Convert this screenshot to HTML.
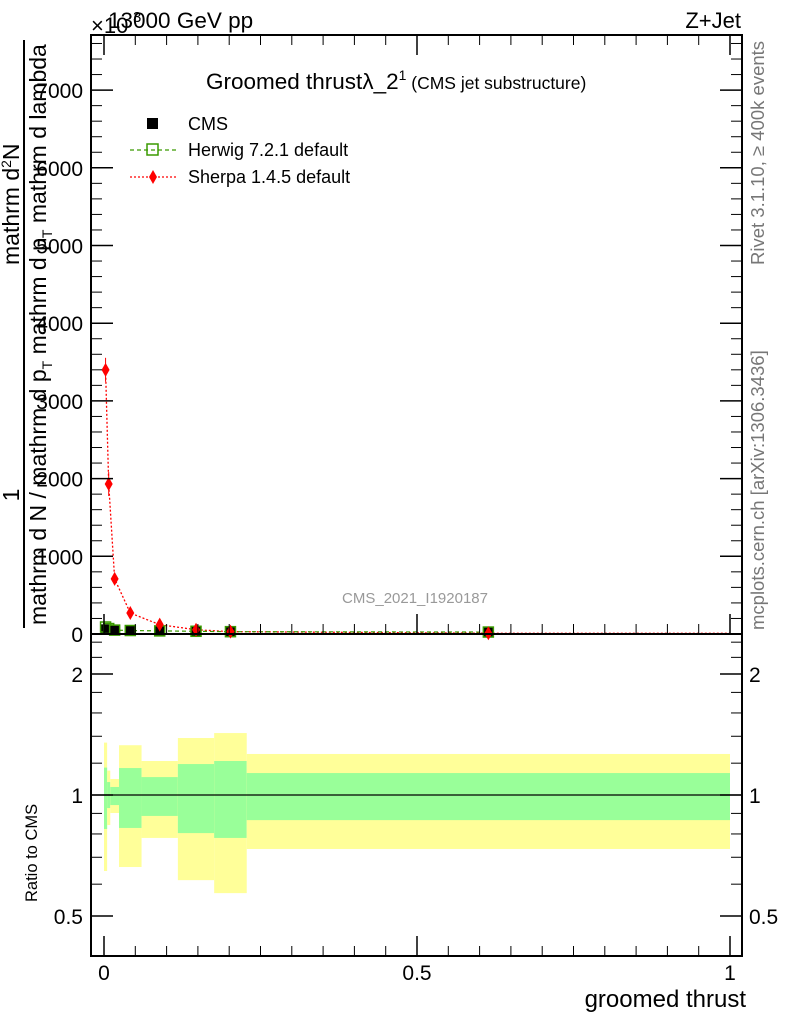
<!DOCTYPE html>
<html><head><meta charset="utf-8"><style>
body{margin:0;background:#fff}
svg{font-family:"Liberation Sans",sans-serif}
</style></head><body>
<svg id="c" width="786" height="1024" xmlns="http://www.w3.org/2000/svg">
<g id="bands"></g>
<g id="marks"></g>
<g id="axes"></g>
<text x="91" y="33" font-size="22">×10</text>
<text x="133" y="22" font-size="15">3</text>
<text x="108" y="28" font-size="22.5">13000 GeV pp</text>
<text x="741" y="28" font-size="22" text-anchor="end">Z+Jet</text>
<text x="206" y="89" font-size="22.5">Groomed thrustλ_2<tspan font-size="14" dy="-9">1</tspan><tspan font-size="17.5" dy="9"> (CMS jet substructure)</tspan></text>
<g>
<rect x="147" y="118" width="11" height="11" fill="#000"/>
<text x="188" y="130" font-size="18">CMS</text>
<line x1="130" y1="150" x2="176" y2="150" stroke="#3a9a00" stroke-dasharray="4,3" stroke-width="1.3"/>
<rect x="147" y="144" width="11" height="11" fill="none" stroke="#3a9a00" stroke-width="1.5"/>
<text x="188" y="156" font-size="18">Herwig 7.2.1 default</text>
<line x1="130" y1="177" x2="176" y2="177" stroke="#f00" stroke-dasharray="2,2" stroke-width="1.3"/>
<path d="M153,170 L157,177 L153,184 L149,177Z" fill="#f00"/>
<text x="188" y="183" font-size="18">Sherpa 1.4.5 default</text>
</g>
<text x="415" y="603" font-size="15" fill="#999" text-anchor="middle">CMS_2021_I1920187</text>
<text transform="translate(764,265) rotate(-90)" font-size="18.5" fill="#777">Rivet 3.1.10, ≥ 400k events</text>
<text transform="translate(764,630) rotate(-90)" font-size="18.5" fill="#777">mcplots.cern.ch [arXiv:1306.3436]</text>
<g>
<text transform="translate(19,495) rotate(-90)" font-size="23" text-anchor="middle">1</text>
<text transform="translate(19,265) rotate(-90)" font-size="23">mathrm d<tspan font-size="14" dy="-8">2</tspan><tspan dy="8">N</tspan></text>
<line x1="24" y1="40" x2="24" y2="628" stroke="#000" stroke-width="2"/>
<text transform="translate(46,625) rotate(-90)" font-size="23">mathrm d N / mathrm d p<tspan font-size="14" dy="6">T</tspan><tspan dy="-6"> mathrm d p</tspan><tspan font-size="14" dy="6">T</tspan><tspan dy="-6"> mathrm d lambda</tspan></text>
</g>
<text transform="translate(37,902) rotate(-90)" font-size="16.5">Ratio to CMS</text>
<text x="746" y="1007" font-size="24" text-anchor="end">groomed thrust</text>
</svg>
<script>
const binEdges=[0,0.005,0.01,0.024,0.06,0.118,0.176,0.228,1];
const cmsValues=[60,55,45,40,35,30,25,20];
const herwigValues=[90,70,50,45,40,35,30,25];
const sherpaValues=[3400,1930,710,270,120,55,30,10];
const yellowHi=[1.35,1.15,1.096,1.33,1.215,1.386,1.426,1.265];
const yellowLo=[0.647,0.842,0.902,0.662,0.782,0.614,0.57,0.734];
const greenHi=[1.17,1.077,1.047,1.167,1.108,1.194,1.215,1.134];
const greenLo=[0.823,0.928,0.944,0.828,0.887,0.804,0.782,0.866];
const yTicks=[0,1000,2000,3000,4000,5000,6000,7000];
const yTickLabels=["0","1000","2000","3000","4000","5000","6000","7000"];
const xTicks=[0,0.5,1];
const xTickLabels=["0","0.5","1"];
const rTicks=[0.5,1,2];
const rTickLabels=["0.5","1","2"];

const NS="http://www.w3.org/2000/svg";
const L=91,R=742,T=35,MB=634,B=956;
const X=v=>104+v*626;
const Y=v=>634-v*0.0777;
const RY=r=>795-Math.log2(r)*121;
function mk(p,tag,at){const e=document.createElementNS(NS,tag);for(const k in at)e.setAttribute(k,at[k]);p.appendChild(e);return e;}
const bands=document.getElementById('bands'),marks=document.getElementById('marks'),axes=document.getElementById('axes');
for(let i=0;i<binEdges.length-1;i++){
 const x0=X(binEdges[i]),x1=X(binEdges[i+1]);
 const yb=mk(bands,'rect',{x:x0,y:RY(yellowHi[i]),width:x1-x0,height:RY(yellowLo[i])-RY(yellowHi[i]),fill:'#ffff99'});
 
 
 const gb=mk(bands,'rect',{x:x0,y:RY(greenHi[i]),width:x1-x0,height:RY(greenLo[i])-RY(greenHi[i]),fill:'#99ff99'});
 
 
}
mk(bands,'line',{x1:L,x2:R,y1:RY(1),y2:RY(1),stroke:'#000','stroke-width':1.2});
const mids=binEdges.slice(0,-1).map((e,i)=>(e+binEdges[i+1])/2);
let pts=mids.map((m,i)=>X(m)+','+Y(sherpaValues[i])).join(' ');
mk(marks,'polyline',{points:pts+' '+X(1)+','+Y(sherpaValues[7]),fill:'none',stroke:'#f00','stroke-dasharray':'2,2','stroke-width':1.3});
let hp=mids.map((m,i)=>X(m)+','+Y(herwigValues[i])).join(' ');
mk(marks,'polyline',{points:hp,fill:'none',stroke:'#3a9a00','stroke-dasharray':'4,3','stroke-width':1.2});
mids.forEach((m,i)=>{
 const c=mk(marks,'rect',{x:X(m)-5,y:Y(cmsValues[i])-5,width:10,height:10,fill:'#000'});
 
 
 const h=mk(marks,'rect',{x:X(m)-5,y:Y(herwigValues[i])-5,width:10,height:10,fill:'none',stroke:'#3a9a00','stroke-width':1.5});
 
 
 const x=X(m),y=Y(sherpaValues[i]);
 const s=mk(marks,'path',{d:`M${x},${y-7}L${x+4},${y}L${x},${y+7}L${x-4},${y}Z`,fill:'#f00'});
 
 
 if(i<2) mk(marks,'line',{x1:x,x2:x,y1:y-12,y2:y+12,stroke:'#f00','stroke-width':1});
});
mk(axes,'rect',{x:L,y:T,width:R-L,height:B-T,fill:'none',stroke:'#000','stroke-width':2});
mk(axes,'line',{x1:L,x2:R,y1:MB,y2:MB,stroke:'#000','stroke-width':2});
yTicks.forEach((v,i)=>{
 const y=Y(v);
 mk(axes,'line',{x1:L,x2:L+22,y1:y,y2:y,stroke:'#000','stroke-width':1.5});
 mk(axes,'line',{x1:R,x2:R-22,y1:y,y2:y,stroke:'#000','stroke-width':1.5});
 for(let k=1;k<5;k++){const ym=Y(v+k*200);if(ym>T){mk(axes,'line',{x1:L,x2:L+11,y1:ym,y2:ym,stroke:'#000'});mk(axes,'line',{x1:R,x2:R-11,y1:ym,y2:ym,stroke:'#000'});}}
 const t=mk(axes,'text',{x:L-8,y:y+8,'font-size':21,'text-anchor':'end'});t.textContent=yTickLabels[i];
 
 
});
rTicks.forEach((v,i)=>{
 const y=RY(v);
 mk(axes,'line',{x1:L,x2:L+22,y1:y,y2:y,stroke:'#000','stroke-width':1.5});
 mk(axes,'line',{x1:R,x2:R-22,y1:y,y2:y,stroke:'#000','stroke-width':1.5});
 const t=mk(axes,'text',{x:L-8,y:y+8,'font-size':21,'text-anchor':'end'});t.textContent=rTickLabels[i];
 
 
 const t2=mk(axes,'text',{x:R+7,y:y+8,'font-size':21});t2.textContent=rTickLabels[i];
 
 
});
[0.6,0.7,0.8,0.9,1.2,1.4,1.6,1.8,2.2,2.4].forEach(v=>{const y=RY(v);mk(axes,'line',{x1:L,x2:L+11,y1:y,y2:y,stroke:'#000'});mk(axes,'line',{x1:R,x2:R-11,y1:y,y2:y,stroke:'#000'});});
for(let k=0;k<=20;k++){
 const v=k*0.05,x=X(v),big=k%10==0;
 [MB,B].forEach(yb=>mk(axes,'line',{x1:x,x2:x,y1:yb,y2:yb-(big?20:10),stroke:'#000','stroke-width':big?1.5:1}));
 mk(axes,'line',{x1:x,x2:x,y1:T,y2:T+(big?20:10),stroke:'#000','stroke-width':big?1.5:1});
}
xTicks.forEach((v,i)=>{const t=mk(axes,'text',{x:X(v),y:980,'font-size':21,'text-anchor':'middle'});t.textContent=xTickLabels[i];
 
 });
</script>
</body></html>
